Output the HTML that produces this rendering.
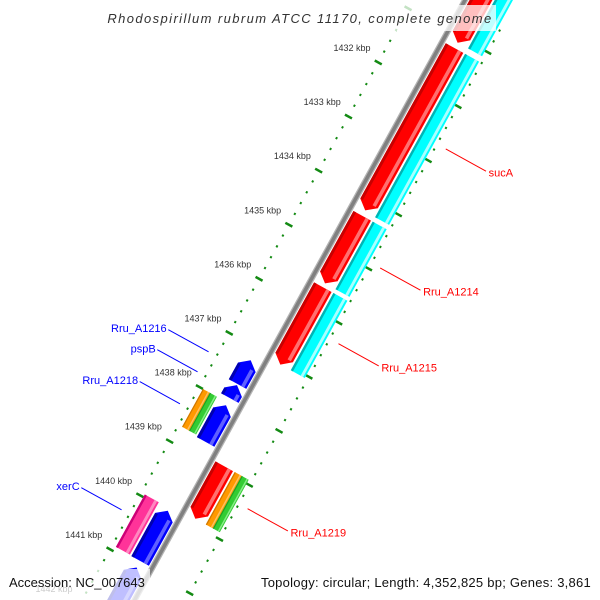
<!DOCTYPE html>
<html><head><meta charset="utf-8"><style>
html,body{margin:0;padding:0;background:#fff;width:600px;height:600px;overflow:hidden;}
svg{display:block;font-family:"Liberation Sans","DejaVu Sans",sans-serif;overflow:hidden;}
</style></head><body>
<svg id="map" width="600" height="600" viewBox="0 0 600 600" xmlns="http://www.w3.org/2000/svg">
<g id="ticks"></g>
<g id="backbone"></g>
<g id="features"></g>
<g id="labels"></g>
<rect x="104" y="5" width="392" height="26" fill="#fff" fill-opacity="0.75"/>
<text x="300" y="23" text-anchor="middle" font-size="13" font-style="italic" fill="#333" letter-spacing="1.4">Rhodospirillum rubrum ATCC 11170, complete genome</text>
<rect x="0" y="569" width="150" height="31" fill="#fff" fill-opacity="0.75"/>
<rect x="255" y="569" width="345" height="31" fill="#fff" fill-opacity="0.75"/>
<text x="9" y="587" font-size="13" fill="#111">Accession: NC_007643</text>
<text x="591" y="587" text-anchor="end" font-size="13" fill="#111" letter-spacing="0.25">Topology: circular; Length: 4,352,825 bp; Genes: 3,861</text>
</svg>
<script>
// data
const fwdStarts = [1430.0, 1431.2, 1434.3, 1435.62, 1438.93];
const fwdEnds   = [1431.1, 1434.2, 1435.55, 1437.05, 1439.9];
const cyanStarts = [1430.0, 1431.2, 1434.3, 1435.62];
const cyanEnds   = [1431.1, 1434.22, 1435.55, 1437.05];
const revStarts = [1437.22, 1437.68, 1438.05, 1440.0, 1441.05];
const revEnds   = [1437.66, 1437.92, 1438.73, 1440.93, 1442.6];
const fwdLabelNames = ["sucA", "Rru_A1214", "Rru_A1215", "Rru_A1219"];
const fwdLabelPos   = [1432.7, 1434.9, 1436.3, 1439.35];
const revLabelNames = ["Rru_A1216", "pspB", "Rru_A1218", "xerC"];
const revLabelPos   = [1437.43, 1437.8, 1438.39, 1440.35];
const tickKbp = [1431,1432,1433,1434,1435,1436,1437,1438,1439,1440,1441,1442];

const NS = "http://www.w3.org/2000/svg";
const B0 = [418.5, 84.6], D = [-29.8, 54.1], N = [0.875, 0.482];
function P(k, v){ const t = k - 1432; return [B0[0] + t*D[0] + v*N[0], B0[1] + t*D[1] + v*N[1]]; }
function pts(a){ return a.map(p => p[0].toFixed(1)+","+p[1].toFixed(1)).join(" "); }
function mk(tag, attrs, parent){ const e = document.createElementNS(NS, tag); for (const k in attrs) e.setAttribute(k, attrs[k]); parent.appendChild(e); return e; }
const AR = 0.13;
function shape(k1, k2, v1, v2, dir){
  const vm = (v1+v2)/2;
  if (dir === 1){ const ks = Math.max(k1, k2-AR); return [P(k1,v1),P(ks,v1),P(k2,vm),P(ks,v2),P(k1,v2)]; }
  if (dir === -1){ const ks = Math.min(k2, k1+AR); return [P(k1,vm),P(ks,v1),P(k2,v1),P(k2,v2),P(ks,v2)]; }
  return [P(k1,v1),P(k2,v1),P(k2,v2),P(k1,v2)];
}
const feat = document.getElementById("features");
function gene(k1,k2,v1,v2,dir,main,dark,light,name){
  const g = mk("g", {}, feat);
  
  
  mk("polygon", {points: pts(shape(k1,k2,v1,v2,dir)), fill: main}, g);
  const w = v2 - v1;
  const a = dir===-1 ? Math.min(k2,k1+AR) : k1, b = dir===1 ? Math.max(k1,k2-AR) : k2;
  mk("polygon", {points: pts([P(a,v1),P(b,v1),P(b,v1+w*0.15),P(a,v1+w*0.15)]), fill: dark}, g);
  mk("polygon", {points: pts([P(a,v2-w*0.3),P(b,v2-w*0.3),P(b,v2-w*0.12),P(a,v2-w*0.12)]), fill: light}, g);
}
for (let i=0;i<fwdStarts.length;i++) gene(fwdStarts[i], fwdEnds[i], 4, 24, 1, "#ff0000", "#c80000", "#ff7070", "forward-gene");
for (let i=0;i<cyanStarts.length;i++) gene(cyanStarts[i], cyanEnds[i], 26, 42, 0, "#00ffff", "#00b4b4", "#aaffff", "cog-feature");
gene(1438.93, 1439.9, 26, 34, 0, "#ff9900", "#d07800", "#ffc060", "cog-feature-orange");
gene(1438.93, 1439.9, 34, 42, 0, "#33cc33", "#20a020", "#88ee88", "cog-feature-green");
for (let i=0;i<revStarts.length;i++) gene(revStarts[i], revEnds[i], -24, -4, -1, "#0000ff", "#0000b0", "#6060ff", "reverse-gene");
gene(1438.0, 1438.7, -42, -34, 0, "#ff9900", "#d07800", "#ffc060", "cog-feature-orange-rev");
gene(1438.0, 1438.7, -34, -26, 0, "#33cc33", "#20a020", "#88ee88", "cog-feature-green-rev");
gene(1439.95, 1440.92, -42, -26, 0, "#ff3399", "#cc0077", "#ff88c0", "cog-feature-pink");

// backbone
const bb = document.getElementById("backbone");
const a0 = P(1430.3, 0), a1 = P(1442.2, 0);
const l1 = mk("line", {x1:a0[0], y1:a0[1], x2:a1[0], y2:a1[1], stroke:"#b4b4b4", "stroke-width":6}, bb);


const l2 = mk("line", {x1:a0[0], y1:a0[1], x2:a1[0], y2:a1[1], stroke:"#808080", "stroke-width":3.5}, bb);



// ticks
const tk = document.getElementById("ticks");
for (let s=0; s<=58; s++){
  const k = 1430.6 + s*0.2;
  const major = Math.abs(k - Math.round(k)) < 0.01;
  [[45,1],[-46,-1]].forEach(([v,sg])=>{
    const p1 = major ? P(k, v-4) : P(k, v-1), p2 = major ? P(k, v+4) : P(k, v+1);
    const l = mk("line", {x1:p1[0], y1:p1[1], x2:p2[0], y2:p2[1], stroke:"#138a13", "stroke-width": major?2.5:2.2}, tk);
    
    
  });
}
tickKbp.forEach(k=>{
  const p = P(k, -76);
  const t = mk("text", {x:p[0], y:p[1]+3, "text-anchor":"middle", "font-size":9, fill:"#333"}, tk);
  
  
  t.textContent = k + " kbp";
});

// labels
const lb = document.getElementById("labels");
function label(k, name, side, color){
  const p1 = P(k, 55*side), p2 = P(k, 101*side), pt = P(k, 104*side);
  const l = mk("line", {x1:p1[0], y1:p1[1], x2:p2[0], y2:p2[1], stroke:color, "stroke-width":1}, lb);
  
  
  const t = mk("text", {x: side>0 ? pt[0] : pt[0]+1, y: pt[1]+4, "text-anchor": side>0?"start":"end", "font-size":11, fill:color}, lb);
  
  
  t.textContent = name;
}
fwdLabelNames.forEach((n,i)=>label(fwdLabelPos[i], n, 1, "#ff0000"));
revLabelNames.forEach((n,i)=>label(revLabelPos[i], n, -1, "#0000ff"));
</script>
</body></html>
